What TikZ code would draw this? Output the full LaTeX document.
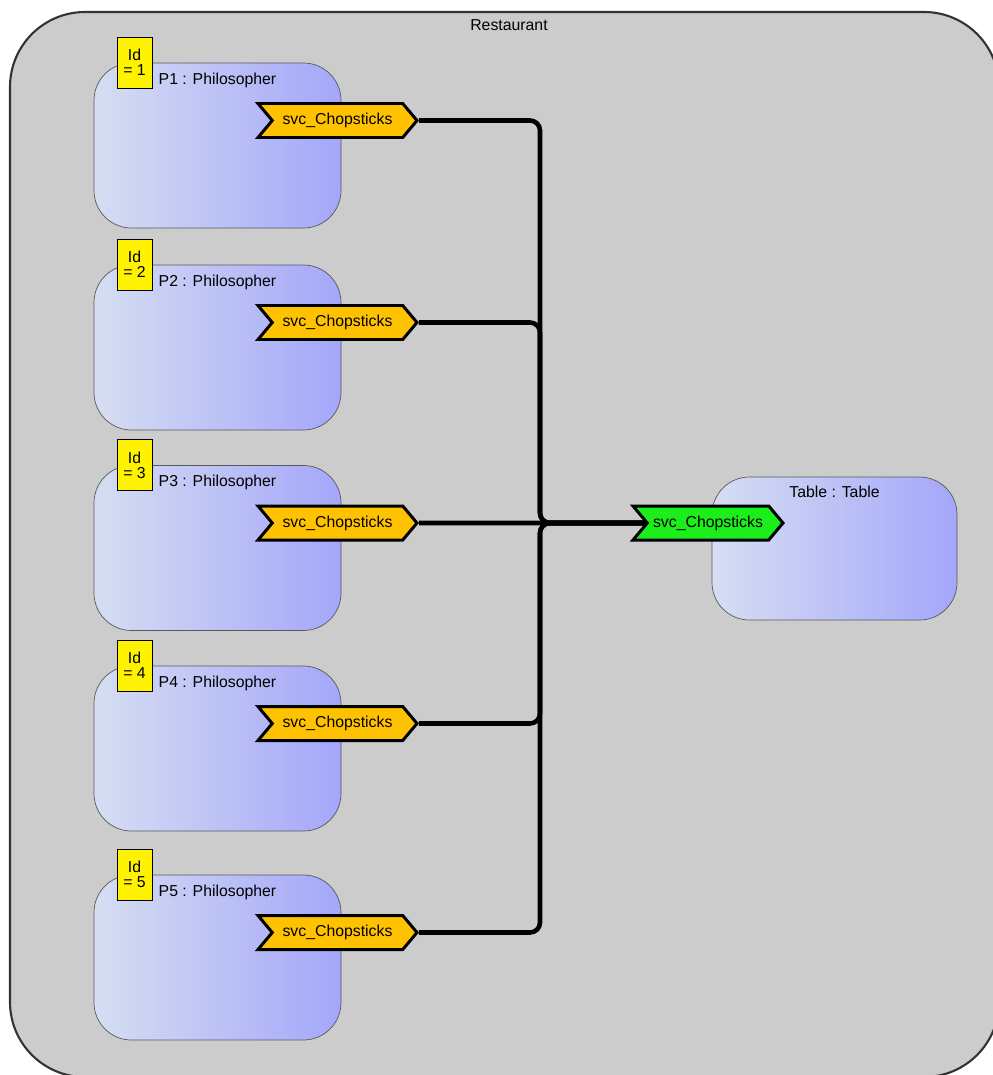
\documentclass[tikz,border=0pt]{standalone}
\usepackage{fontspec}
\setmainfont{Liberation Sans}
\usetikzlibrary{shapes.symbols}
\definecolor{restgray}{RGB}{204,204,204}
\definecolor{philleft}{RGB}{214,222,242}
\definecolor{philright}{RGB}{164,166,250}
\definecolor{portorange}{RGB}{255,194,0}
\definecolor{portgreen}{RGB}{28,238,28}
\begin{document}
\begin{tikzpicture}[font=\fontsize{9}{10}\selectfont,
        restaurant/.style={draw=black!80,line width=1.2pt,fill=restgray,rounded corners=1.5cm,
          minimum width=19.78cm,minimum height=21.3cm},
        part/.style={draw=black!65,thin,left color=philleft,right color=philright,
          rounded corners=0.75cm,minimum width=4.94cm,minimum height=3.3cm},
        idtag/.style={draw,thin,fill=yellow,align=center,inner sep=1pt,
          minimum width=0.7cm,minimum height=1.02cm,font=\fontsize{9}{8.5}\selectfont},
        port/.style={draw,line width=1.7pt,shape=signal,signal to=east,signal from=west,
          signal pointer angle=100,minimum height=0.68cm,inner sep=1pt},
        wire/.style={line width=2.6pt,rounded corners=0.2cm}]
        \useasboundingbox (0,0) rectangle (19.86,-21.5);
        \node[restaurant,label={[anchor=north,xshift=0.09cm,yshift=-0.05cm]north:Restaurant}] (rest) at (10.09,-10.89) {};
        \foreach \i/\y in {1/-2.91,2/-6.95,3/-10.96,4/-14.97,5/-19.15}{
          \node[part,label={[anchor=north,yshift=-0.08cm]north:P\i{} : Philosopher}] (p\i) at (4.35,\y) {};
          \node[idtag] (id\i) at ([xshift=-1.66cm]p\i.north) {Id\\= \i};
          \node[port,fill=portorange,minimum width=3.18cm] (s\i) at ([shift={(2.4,0.5)}]p\i.center) {svc\_Chopsticks};
        }
        \node[part,minimum width=4.9cm,minimum height=2.86cm,
          label={[anchor=north,yshift=-0.06cm]north:Table : Table}] (tbl) at (16.69,-10.97) {};
        \node[port,fill=portgreen,minimum width=3cm] (ts) at (14.16,-10.46) {svc\_Chopsticks};
        \coordinate (junc) at (10.8,-10.46);
        \foreach \i in {1,2,4,5} \draw[wire] (s\i.east) -| (junc) -- (ts.west);
        \draw[wire] (s3.east) -- (ts.west);
      \end{tikzpicture}
\end{document}
